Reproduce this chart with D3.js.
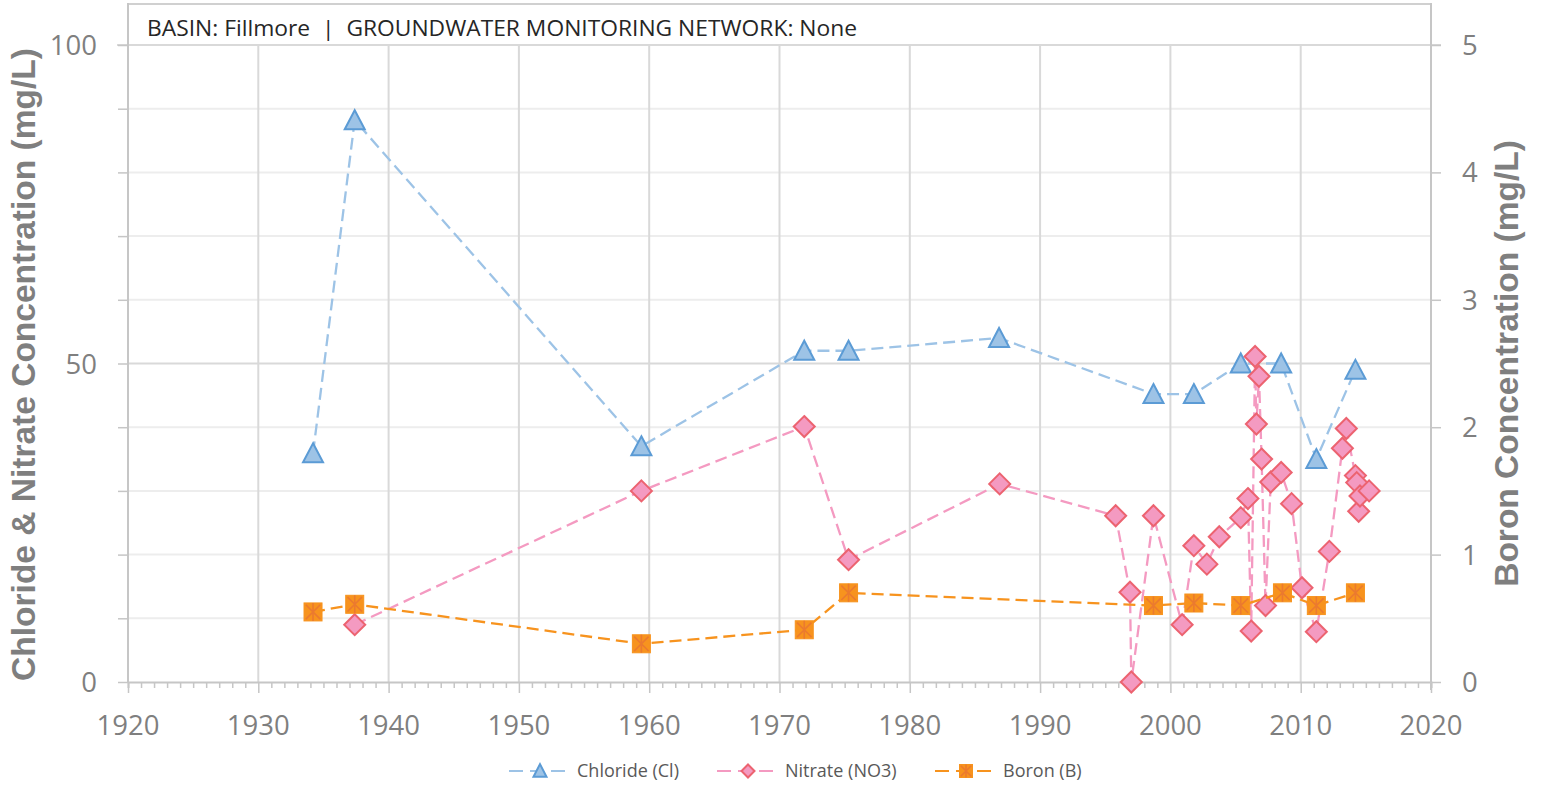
<!DOCTYPE html>
<html>
<head>
<meta charset="utf-8">
<script src="https://cdn.jsdelivr.net/npm/d3@7"></script>
<style>
  html, body { margin: 0; padding: 0; background: #fff; }
  svg { display: block; }
</style>
</head>
<body>
<svg id="chart" width="1541" height="785"></svg>
<script>
// ---------- DATA ----------
const chlorideYears  = [1934.2, 1937.4, 1959.4, 1971.9, 1975.3, 1986.85, 1998.7, 2001.8, 2005.4, 2008.5, 2011.2, 2014.2];
const chlorideValues = [35.9, 88.2, 37.0, 52.0, 52.0, 54.0, 45.2, 45.2, 50.0, 50.0, 35.0, 49.0];

const nitrateYears  = [1937.4, 1959.4, 1971.9, 1975.3, 1986.9, 1995.8, 1996.9, 1997.0, 1998.7, 2000.9,
                       2001.8, 2002.8, 2003.75, 2005.4, 2005.95, 2006.2, 2006.5, 2006.6, 2006.8, 2007.0,
                       2007.3, 2007.7, 2008.5, 2009.3, 2010.1, 2011.2, 2012.2, 2013.2, 2013.5, 2014.2,
                       2014.3, 2014.45, 2014.55, 2015.25];
const nitrateValues = [9.0, 30.0, 40.1, 19.2, 31.1, 26.1, 14.1, 0.0, 26.1, 9.0,
                       21.4, 18.5, 22.8, 25.8, 28.8, 8.0, 51.1, 40.5, 48.0, 35.0,
                       12.0, 31.4, 32.9, 28.0, 14.8, 7.9, 20.5, 36.7, 39.8, 32.4,
                       31.3, 26.8, 29.2, 30.0];

const boronYears  = [1934.2, 1937.4, 1959.4, 1971.9, 1975.3, 1998.7, 2001.8, 2005.4, 2008.6, 2011.2, 2014.2];
const boronValues = [0.55, 0.61, 0.30, 0.41, 0.70, 0.60, 0.62, 0.60, 0.70, 0.60, 0.70];

const xTickYears   = [1920, 1930, 1940, 1950, 1960, 1970, 1980, 1990, 2000, 2010, 2020];
const leftTicks    = [0, 50, 100];
const rightTicks   = [0, 1, 2, 3, 4, 5];
const titleText    = "BASIN: Fillmore  |  GROUNDWATER MONITORING NETWORK: None";
const leftTitle    = "Chloride & Nitrate Concentration (mg/L)";
const rightTitle   = "Boron Concentration (mg/L)";
const legendLabels = ["Chloride (Cl)", "Nitrate (NO3)", "Boron (B)"];

// ---------- LAYOUT ----------
const svg = d3.select("#chart");
const L = 128, R = 1431, T = 45, B = 682, FRAME_TOP = 4;

const x  = d3.scaleLinear().domain([1920, 2020]).range([L, R]);
const yL = d3.scaleLinear().domain([0, 100]).range([B, T]);
const yR = d3.scaleLinear().domain([0, 5]).range([B, T]);

const axisColor = "#c6c6c6";
const labelColor = "#7f7f7f";

// Gridlines: horizontal every 10 (left)
const g = svg.append("g");
g.selectAll("line.hmin").data(d3.range(10, 100, 10).filter(v => v !== 50))
  .join("line").attr("x1", L).attr("x2", R)
  .attr("y1", d => yL(d)).attr("y2", d => yL(d))
  .attr("stroke", "#ededed").attr("stroke-width", 2);
g.selectAll("line.hmaj").data([50, 100])
  .join("line").attr("x1", d => d === 100 ? 117 : L).attr("x2", d => d === 100 ? R + 10 : R)
  .attr("y1", d => yL(d)).attr("y2", d => yL(d))
  .attr("stroke", "#d9d9d9").attr("stroke-width", 2);
// vertical gridlines
g.selectAll("line.v").data(xTickYears.slice(1, -1))
  .join("line").attr("x1", d => x(d)).attr("x2", d => x(d))
  .attr("y1", T).attr("y2", B)
  .attr("stroke", "#d9d9d9").attr("stroke-width", 2);

// Title box frame
svg.append("line").attr("x1", L).attr("x2", R).attr("y1", FRAME_TOP).attr("y2", FRAME_TOP)
  .attr("stroke", "#d0d0d0").attr("stroke-width", 2);
svg.append("line").attr("x1", L).attr("x2", L).attr("y1", FRAME_TOP - 1).attr("y2", B)
  .attr("stroke", axisColor).attr("stroke-width", 2);
svg.append("line").attr("x1", R).attr("x2", R).attr("y1", FRAME_TOP - 1).attr("y2", B + 8)
  .attr("stroke", axisColor).attr("stroke-width", 2);

// X axis
const xAxis = d3.axisBottom(x).tickValues(d3.range(1920, 2021, 1)).tickSize(6).tickFormat("");
const xg = svg.append("g").attr("transform", `translate(0,${B})`).call(xAxis);
xg.select(".domain").attr("stroke", axisColor).attr("stroke-width", 2);
xg.selectAll(".tick line").attr("stroke", axisColor).attr("stroke-width", 1.5)
  .attr("y2", d => (d % 10 === 0 ? 11 : 6));
svg.append("g").selectAll("text").data(xTickYears).join("text")
  .attr("x", d => x(d)).attr("y", B + 53)
  .attr("text-anchor", "middle")
  .attr("font-family", "Open Sans, sans-serif").attr("font-size", 27.5)
  .attr("fill", labelColor).text(d => d);

// Left axis
const yLAxis = d3.axisLeft(yL).tickValues(d3.range(0, 101, 10)).tickSize(10).tickFormat("");
const ylg = svg.append("g").attr("transform", `translate(${L},0)`).call(yLAxis);
ylg.select(".domain").remove();
ylg.selectAll(".tick line").attr("stroke", axisColor).attr("stroke-width", 1.5);
svg.append("g").selectAll("text").data(leftTicks).join("text")
  .attr("x", 97).attr("y", d => yL(d) + 10)
  .attr("text-anchor", "end")
  .attr("font-family", "Open Sans, sans-serif").attr("font-size", 27.5)
  .attr("fill", labelColor).text(d => d);

// Right axis
const yRAxis = d3.axisRight(yR).tickValues(rightTicks).tickSize(10).tickFormat("");
const yrg = svg.append("g").attr("transform", `translate(${R},0)`).call(yRAxis);
yrg.select(".domain").remove();
yrg.selectAll(".tick line").attr("stroke", axisColor).attr("stroke-width", 1.5);
svg.append("g").selectAll("text").data(rightTicks).join("text")
  .attr("x", 1462).attr("y", d => yR(d) + 10)
  .attr("text-anchor", "start")
  .attr("font-family", "Open Sans, sans-serif").attr("font-size", 27.5)
  .attr("fill", labelColor).text(d => d);

// Axis titles
svg.append("text")
  .attr("transform", `translate(35,${(T + B) / 2 + 1}) rotate(-90)`)
  .attr("text-anchor", "middle")
  .attr("font-family", "Liberation Sans, Arial, sans-serif").attr("font-weight", "bold")
  .attr("font-size", 33.5).attr("fill", labelColor).text(leftTitle);
svg.append("text")
  .attr("transform", `translate(1518,${(T + B) / 2}) rotate(-90)`)
  .attr("text-anchor", "middle")
  .attr("font-family", "Liberation Sans, Arial, sans-serif").attr("font-weight", "bold")
  .attr("font-size", 33.5).attr("fill", labelColor).text(rightTitle);

// Chart title
svg.append("text").attr("x", 147).attr("y", 36)
  .attr("font-family", "Open Sans, sans-serif").attr("font-size", 21.5)
  .attr("fill", "#262626")
  .attr("textLength", 710).attr("lengthAdjust", "spacingAndGlyphs")
  .style("white-space", "pre")
  .text(titleText);

// ---------- SERIES ----------
const styles = {
  cl: { line: "#9DC3E6", fill: "#9DC3E6", stroke: "#5B9BD5" },
  no3: { line: "#F49AC1", fill: "#F49AC1", stroke: "#EC6370" },
  b: { line: "#F7931E", fill: "#F7931E", stroke: "#EB7A2F" }
};

function triangle(sel, cx, cy, s, st) {
  const h = s * 0.9;
  sel.append("path")
    .attr("d", `M${cx},${cy - h / 2 - 1}L${cx + s / 2},${cy + h / 2}L${cx - s / 2},${cy + h / 2}Z`)
    .attr("fill", st.fill).attr("stroke", st.stroke).attr("stroke-width", 2).attr("stroke-linejoin", "miter");
}
function diamond(sel, cx, cy, s, st) {
  const r = s / 2;
  sel.append("path")
    .attr("d", `M${cx},${cy - r}L${cx + r},${cy}L${cx},${cy + r}L${cx - r},${cy}Z`)
    .attr("fill", st.fill).attr("stroke", st.stroke).attr("stroke-width", 2);
}
function starSquare(sel, cx, cy, s, st) {
  const r = s / 2;
  sel.append("rect").attr("x", cx - r).attr("y", cy - r).attr("width", s).attr("height", s)
    .attr("fill", st.fill).attr("stroke", st.fill).attr("stroke-width", 1);
  const k = r * 0.8;
  sel.append("path")
    .attr("d", `M${cx - k},${cy - k}L${cx + k},${cy + k}M${cx + k},${cy - k}L${cx - k},${cy + k}M${cx},${cy - r}L${cx},${cy + r}`)
    .attr("stroke", st.stroke).attr("stroke-width", 1.6).attr("fill", "none");
}

function drawSeries(years, values, yScale, st, markerFn, size) {
  const pts = years.map((yr, i) => [x(yr), yScale(values[i])]);
  const gg = svg.append("g");
  gg.append("path").attr("d", d3.line()(pts))
    .attr("fill", "none").attr("stroke", st.line).attr("stroke-width", 2.3)
    .attr("stroke-dasharray", "12,6");
  pts.forEach(p => markerFn(gg, p[0], p[1], size, st));
}

drawSeries(chlorideYears, chlorideValues, yL, styles.cl, triangle, 20);
drawSeries(nitrateYears, nitrateValues, yL, styles.no3, diamond, 21);
drawSeries(boronYears, boronValues, yR, styles.b, starSquare, 18);

// ---------- LEGEND ----------
const legendItems = [
  { x0: 509, x1: 571, label: legendLabels[0], st: styles.cl, fn: triangle, s: 13 },
  { x0: 717, x1: 779, label: legendLabels[1], st: styles.no3, fn: diamond, s: 13 },
  { x0: 935, x1: 997, label: legendLabels[2], st: styles.b, fn: starSquare, s: 13 }
];
const ly = 771;
const lg = svg.append("g");
legendItems.forEach(it => {
  lg.append("line").attr("x1", it.x0).attr("x2", it.x1).attr("y1", ly).attr("y2", ly)
    .attr("stroke", it.st.line).attr("stroke-width", 2).attr("stroke-dasharray", "14,7");
  it.fn(lg, (it.x0 + it.x1) / 2, ly, it.s, it.st);
  lg.append("text").attr("x", it.x1 + 6).attr("y", ly + 6)
    .attr("font-family", "Open Sans, sans-serif").attr("font-size", 18)
    .attr("fill", "#595959").text(it.label);
});
</script>
</body>
</html>
